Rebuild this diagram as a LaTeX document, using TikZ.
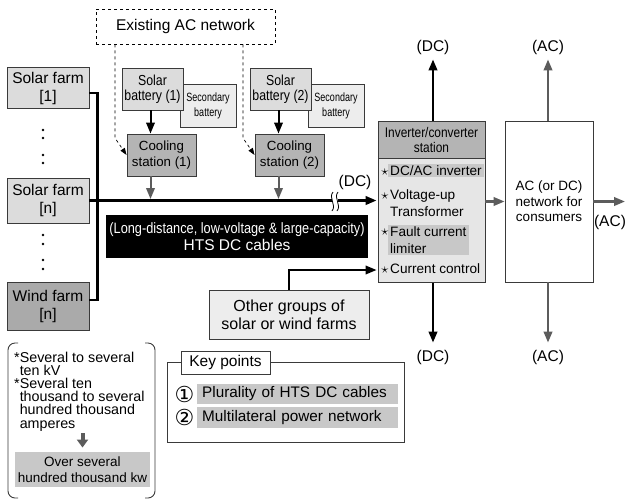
\documentclass[tikz,border=0pt]{standalone}
\usepackage{fontspec}
\setmainfont{Liberation Sans}
\newfontfamily\narrowsf[FakeStretch=0.85]{Liberation Sans}
\newfontfamily\slimsf[FakeStretch=0.75]{Liberation Sans}
\newfontfamily\symsf{DejaVu Sans}
\usepackage{tikz}
\usetikzlibrary{arrows.meta,calc,positioning}
\definecolor{Frame}{HTML}{3A3A3A}
\definecolor{LightBox}{HTML}{DCDCDC}
\definecolor{PaleBox}{HTML}{EDEDED}
\definecolor{MidBox}{HTML}{B4B4B4}
\definecolor{WindBox}{HTML}{AAAAAA}
\definecolor{InvBody}{HTML}{E6E6E6}
\definecolor{HiLite}{HTML}{C8C8C8}
\definecolor{GrayArrow}{HTML}{5C5C5C}
\newcommand{\fbig}{\fontsize{15.5}{18}\selectfont}
\newcommand{\fbat}{\narrowsf\fontsize{14.5}{15.5}\selectfont}
\newcommand{\fsec}{\slimsf\fontsize{12}{15}\selectfont}
\newcommand{\fcool}{\fontsize{13.3}{16}\selectfont}
\newcommand{\finv}{\narrowsf\fontsize{14}{15}\selectfont}
\newcommand{\fhts}{\narrowsf\fontsize{15}{17}\selectfont}
\newcommand{\fitem}{\fontsize{13.6}{17}\selectfont}
\newcommand{\fother}{\fontsize{16}{18}\selectfont}
\newcommand{\fnote}{\fontsize{14.3}{13.2}\selectfont}
\newcommand{\fover}{\fontsize{13.5}{16}\selectfont}
\tikzstyle{box}     =[draw=Frame, line width=0.9pt, inner sep=0pt, align=center]
\tikzstyle{plain}   =[inner sep=0pt, font=\fbig]
\tikzstyle{item}    =[anchor=west, inner xsep=2pt, inner ysep=1.5pt, align=left, font=\fitem]
\tikzstyle{starmark}=[inner sep=0pt, font=\fontsize{14}{14}\selectfont]
\tikzstyle{digit}   =[inner sep=0pt, font=\symsf\fontsize{22}{22}\selectfont]
\tikzstyle{cable}   =[line width=2.4pt]
\tikzstyle{tip}     =[-{Triangle[length=11pt,width=8.5pt]}]
\tikzstyle{graytip} =[draw=GrayArrow, line width=2.3pt, -{Triangle[length=11pt,width=8.5pt]}]
\tikzstyle{feed}    =[dashed, line width=0.7pt, -{Triangle[length=7pt,width=5pt]}]
\begin{document}
\begin{tikzpicture}[x=1pt, y=-1pt]
\useasboundingbox (0,0) rectangle (626,499);
\node[box, draw=black, dashed, line width=0.7pt, minimum width=179pt,
      minimum height=35pt, font=\fbig] (acnet) at (185.5,26.5) {Existing AC network};
% farms and the collecting bus
\node[box, fill=LightBox, minimum width=82pt, minimum height=41pt, font=\fbig] (sf1) at (48,88) {Solar farm\\{[1]}};
\node[box, fill=LightBox, minimum width=82pt, minimum height=45pt, font=\fbig] (sfn) at (48,200.5) {Solar farm\\{[n]}};
\node[box, fill=WindBox, minimum width=82pt, minimum height=48pt, font=\fbig] (wfn) at (48,306) {Wind farm\\{[n]}};
\foreach \y in {130,138,155,163,235,244,260,269} \fill (43,\y) circle (1.4pt);
\draw[cable] ([yshift=-5pt]sf1.east) -| ([xshift=8pt,yshift=6pt]wfn.east) -- ([yshift=6pt]wfn.east);
% stations
\foreach \i/\dx in {1/0,2/128} {
  \node[box, fill=PaleBox, minimum width=56pt, minimum height=43pt, font=\fsec] (sec\i) at ({208+\dx},105.5) {Secondary\\battery};
  \node[box, fill=LightBox, minimum width=61pt, minimum height=42pt, font=\fbat] (sb\i) at ({152.5+\dx},89) {Solar\\battery (\i)};
  \node[box, fill=MidBox, minimum width=69pt, minimum height=42pt, font=\fcool] (cs\i) at ({161.5+\dx},155) {Cooling\\station (\i)};
  \coordinate (drop\i) at ({115+\dx},138);
  \coordinate (tap\i) at ({150.5+\dx},199);
  \draw[line width=2pt, tip] ([xshift=-2pt]sb\i.south) -- ([xshift=-2pt]sb\i.south |- cs\i.north);
  \draw[graytip, line width=2pt] (cs\i.south -| tap\i) -- (tap\i);
  \draw[feed] (acnet.south -| drop\i) -- (drop\i) -- (cs\i.west);
}
% inverter station
\node[box, fill=MidBox, minimum width=107pt, minimum height=37pt, font=\finv] (invh) at (431.5,139.5) {Inverter/converter\\station};
\node[box, fill=InvBody, minimum width=107pt, minimum height=124pt, anchor=north] (invb) at (invh.south) {};
\node[item, fill=HiLite] (dcac) at (388,170.5) {DC/AC inverter};
\node[item] (vup) at (388,203.5) {Voltage-up\\Transformer};
\node[item, fill=HiLite] (fcl) at (388,240) {Fault current\\limiter\hspace*{26pt}};
\node[item] (cctl) at (388,269) {Current control};
\foreach \n/\y in {1/172,2/196,3/232,4/270} \node[starmark] (st\n) at (385,\y) {$\star$};
% cables
\draw[cable, tip, shorten >=1pt] (sfn.east) -- (invb.west |- sfn.east);
\fill[white] (331.5,198) rectangle (337.5,204);
\draw[line width=0.8pt] (333,192) .. controls (328,198) and (337,205) .. (332,211);
\draw[line width=0.8pt] (338,192) .. controls (333,198) and (342,205) .. (337,211);
\node[plain] (dcmain) at (355,182) {(DC)};
\node[box, draw=none, fill=black, text=white, minimum width=262pt, minimum height=43pt,
      font=\fontsize{15}{17}\selectfont] (hts) at (237,236.5)
      {{\fhts (Long-distance, low-voltage \& large-capacity)}\\{\fbig HTS DC cables}};
\node[plain] (dcup) at (433,47) {(DC)};
\node[plain] (dcdown) at (433,357) {(DC)};
\draw[cable, tip, shorten >=5pt] (invh.north -| dcup) -- (dcup.south);
\draw[cable, tip, shorten >=7pt] (invb.south -| dcdown) -- (dcdown.north);
% consumers
\node[box, fill=white, minimum width=88pt, minimum height=161pt, font=\fontsize{13.5}{15.5}\selectfont] (acb) at (549,201.5) {AC (or DC)\\network for\\consumers};
\node[plain] (acup) at (548,47) {(AC)};
\node[plain] (acdown) at (548,357) {(AC)};
\node[plain] (acright) at (610,222) {(AC)};
\coordinate (acout) at (625,201.5);
\draw[graytip, shorten >=5pt] (acb.north -| acup) -- (acup.south);
\draw[graytip, shorten >=7pt] (acb.south -| acdown) -- (acdown.north);
\draw[graytip] (acb.east) -- (acout);
\draw[graytip] (invb.east |- acb.west) -- (acb.west);
% other groups
\node[box, fill=PaleBox, minimum width=160pt, minimum height=49pt, font=\fother] (og) at (289,314.5) {Other groups of\\solar or wind farms};
\draw[line width=2pt, tip, shorten >=1pt] (og.north) |- (invb.west |- st4);
% key points
\node[box, minimum width=237pt, minimum height=80pt] (kp) at (285.5,402) {};
\node[box, fill=white, minimum width=89pt, minimum height=23pt, font=\fbig] (kptitle) at (225.5,362.5) {Key points};
\node[digit] (n1) at (184.5,394) {①};
\node[digit] (n2) at (184.5,417.5) {②};
\node[anchor=west, fill=HiLite, text width=191pt, inner xsep=5pt, minimum height=19pt, font=\fontsize{15.3}{17}\selectfont] (kp1) at (197,394) {Plurality of HTS DC cables};
\node[anchor=west, fill=HiLite, text width=191pt, inner xsep=5pt, minimum height=19pt, font=\fontsize{15.3}{17}\selectfont] (kp2) at (197,417.5) {Multilateral power network};
% ratings
\draw[Frame, line width=0.9pt, rounded corners=7pt] (18,343) -- (8,343) -- (8,498) -- (18,498);
\draw[Frame, line width=0.9pt, rounded corners=7pt] (145,343) -- (155,343) -- (155,498) -- (145,498);
\node[inner sep=0pt, anchor=north west, align=left, font=\fnote] (notes) at (14,351.5)
  {*Several to several\\\phantom{*}ten kV\\*Several ten\\\phantom{*}thousand to several\\\phantom{*}hundred thousand\\\phantom{*}amperes};
\node[box, draw=none, fill=HiLite, minimum width=135pt, minimum height=35pt, font=\fover] (over) at (82.5,469.5) {Over several\\hundred thousand kw};
\draw[draw=GrayArrow, line width=4pt, -{Triangle[length=8pt,width=11pt]}, shorten <=2pt, shorten >=4pt] (notes.south -| over.north) -- (over.north);
\end{tikzpicture}
\end{document}
